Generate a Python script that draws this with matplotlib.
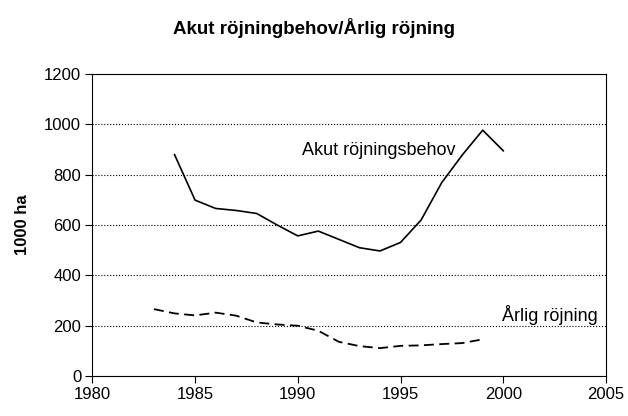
import numpy as np
import matplotlib.pyplot as plt

plt.rcParams['font.family'] = ['Liberation Sans', 'DejaVu Sans']

years_akut = [1984, 1985, 1986, 1987, 1988, 1989, 1990, 1991, 1992,
              1993, 1994, 1995, 1996, 1997, 1998, 1999, 2000]
akut = [880, 699, 666, 658, 646, 600, 557, 576, 543,
        510, 497, 531, 620, 768, 878, 977, 895]

years_arlig = [1983, 1984, 1985, 1986, 1987, 1988, 1989, 1990, 1991,
               1992, 1993, 1994, 1995, 1996, 1997, 1998, 1999]
arlig = [266, 249, 241, 252, 240, 213, 205, 200, 180,
         136, 119, 111, 120, 122, 127, 131, 146]

fig = plt.figure(figsize=(6.28, 4.16), dpi=100)
ax = fig.add_axes([0.147, 0.096, 0.818, 0.726])

ax.plot(years_akut, akut, color='black', linewidth=1.2)
ax.plot(years_arlig, arlig, color='black', linewidth=1.3, linestyle=(0, (5.5, 3)))

ax.set_xlim(1980, 2005)
ax.set_ylim(0, 1200)
ax.set_xticks(range(1980, 2006, 5))
ax.set_yticks(range(0, 1201, 200))
ax.grid(axis='y', color='black', linestyle=':', linewidth=0.8)
ax.set_axisbelow(True)
ax.tick_params(labelsize=12, direction='out', length=5, width=0.8, pad=3)
for s in ax.spines.values():
    s.set_linewidth(0.8)

ax.set_ylabel('1000 ha', fontsize=12, fontweight='bold', labelpad=10)
fig.text(0.5, 0.933, 'Akut röjningbehov/Årlig röjning', ha='center', va='center',
         fontsize=13.5, fontweight='bold')

ax.text(1990.2, 898, 'Akut röjningsbehov', fontsize=13, ha='left', va='center')
ax.text(1999.95, 242, 'Årlig röjning', fontsize=13, ha='left', va='center')

fig.savefig('out.png', dpi=100)
